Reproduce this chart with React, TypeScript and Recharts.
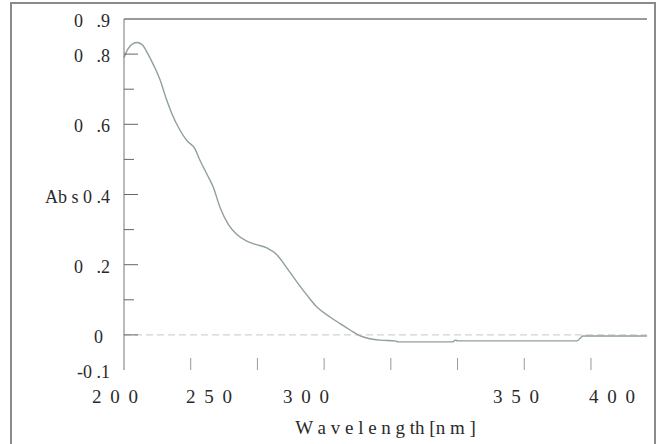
import React from "react";
import {
  LineChart,
  Line,
  XAxis,
  YAxis,
  ReferenceLine,
} from "recharts";

// wavelength (nm)
const wavelength = [
  200, 201.5, 203.4, 205, 207, 209, 211, 213.5, 216, 217.9, 221, 223.5,
  226.6, 228.5, 231, 233.5, 236, 239.1, 242.3, 246, 249.7, 253.5, 257.2, 261,
  264.7, 268.5, 272.2, 277.2, 281, 284.7, 288.5, 292.2, 296, 301.6, 302.7,
  323.3, 324.1, 325.2, 369.8, 372, 396,
];

// absorbance
const absorbance = [
  0.79, 0.815, 0.83, 0.833, 0.825, 0.8, 0.77, 0.727, 0.669, 0.631, 0.583,
  0.554, 0.53, 0.497, 0.459, 0.42, 0.363, 0.315, 0.286, 0.267, 0.257, 0.248,
  0.229, 0.191, 0.152, 0.114, 0.08, 0.051, 0.032, 0.014, -0.003, -0.011,
  -0.015, -0.017, -0.02, -0.02, -0.015, -0.017, -0.017, -0.003, -0.003,
];

// tick marks on the wavelength axis
const xTickMarks = [200, 225, 250, 275, 300, 325, 350, 375];
// where the wavelength labels sit, and what they say
const xLabelAt = [200, 232.2, 268.6, 347.3, 383.3];
const xLabelText = ["2 0 0", "2 5 0", "3 0 0", "3 5 0", "4 0 0"];

const NB = "\u00a0";
const yTicks = [-0.1, 0, 0.1, 0.2, 0.3, 0.4, 0.5, 0.6, 0.7, 0.8, 0.9];
const yLabels: Record<string, string> = {
  "0.9": `0${NB}${NB}${NB}.9`,
  "0.8": `0${NB}${NB}${NB}.8`,
  "0.6": `0${NB}${NB}${NB}.6`,
  "0.4": `Ab${NB}s${NB}0${NB}.4`,
  "0.2": `0${NB}${NB}${NB}.2`,
  "0": "0",
  "-0.1": `-0${NB}.1`,
};

const data = wavelength.map((nm, i) => ({ nm, abs: absorbance[i] }));

const FONT = "'Liberation Serif', 'Times New Roman', 'DejaVu Serif', serif";

function YTick(props: any) {
  const { x, y, payload } = props;
  const key = String(Math.round(payload.value * 10) / 10);
  const label = yLabels[key];
  const isEdge = payload.value === 0.9 || payload.value === -0.1;
  return (
    <g>
      {!isEdge && (
        <line
          x1={x}
          x2={x + (label ? 14 : 10)}
          y1={y}
          y2={y}
          stroke="#666"
          strokeWidth={1}
        />
      )}
      {label && (
        <text
          x={key === "0" ? x - 21 : x - 14}
          y={y}
          dy={8}
          textAnchor="end"
          fill="#2a2a2a"
          style={{ fontFamily: FONT, fontSize: 18 }}
        >
          {label}
        </text>
      )}
    </g>
  );
}

function XTick(props: any) {
  const { x, y, payload } = props;
  const v = payload.value;
  const li = xLabelAt.indexOf(v);
  const isMark = xTickMarks.includes(v) && v !== 200;
  return (
    <g>
      {isMark && (
        <line x1={x} x2={x} y1={y - 12} y2={y} stroke="#999" strokeWidth={1} />
      )}
      {li >= 0 && (
        <text
          x={li === 0 ? x - 8 : x}
          y={y}
          dy={33}
          textAnchor="middle"
          fill="#2a2a2a"
          style={{ fontFamily: FONT, fontSize: 19, letterSpacing: 2 }}
        >
          {xLabelText[li]}
        </text>
      )}
    </g>
  );
}

function XTitle(props: any) {
  const { viewBox } = props;
  const cx = viewBox.x + viewBox.width / 2;
  return (
    <text
      x={cx}
      y={viewBox.y + viewBox.height - 10}
      textAnchor="middle"
      fill="#2a2a2a"
      style={{ fontFamily: FONT, fontSize: 19 }}
    >
      W a v e l e n g th [n m ]
    </text>
  );
}

export default function App() {
  const allXTicks = Array.from(new Set([...xTickMarks, ...xLabelAt])).sort(
    (a, b) => a - b
  );
  return (
    <div
      style={{
        position: "absolute",
        left: 0,
        top: 0,
        width: 657,
        height: 444,
        background: "#fff",
      }}
    >
      <div
        style={{
          position: "absolute",
          left: 10,
          top: 2,
          width: 642,
          height: 442,
          borderLeft: "2px solid #8a8a8a",
          borderTop: "2px solid #8a8a8a",
          borderRight: "2px solid #8a8a8a",
        }}
      />
      <div style={{ position: "absolute", left: 0, top: 0 }}>
        <LineChart
          width={657}
          height={444}
          data={data}
          margin={{ top: 19, right: 10, bottom: 0, left: 0 }}
        >
          <XAxis
            dataKey="nm"
            type="number"
            domain={[200, 396]}
            ticks={allXTicks}
            interval={0}
            axisLine={false}
            tickLine={false}
            tickSize={0}
            tickMargin={0}
            height={74}
            tick={<XTick />}
            label={<XTitle />}
          />
          <YAxis
            type="number"
            domain={[-0.1, 0.9]}
            ticks={yTicks}
            interval={0}
            width={124}
            axisLine={{ stroke: "#777", strokeWidth: 1 }}
            tickLine={false}
            tickSize={0}
            tickMargin={0}
            tick={<YTick />}
          />
          <ReferenceLine
            y={0}
            stroke="#c8c8c8"
            strokeWidth={1}
            strokeDasharray="7 4"
          />
          <ReferenceLine y={0.9} stroke="#999" strokeWidth={2} />
          <Line
            type="monotone"
            dataKey="abs"
            stroke="#8fa192"
            strokeWidth={1.4}
            dot={false}
            isAnimationActive={false}
          />
        </LineChart>
      </div>
    </div>
  );
}
